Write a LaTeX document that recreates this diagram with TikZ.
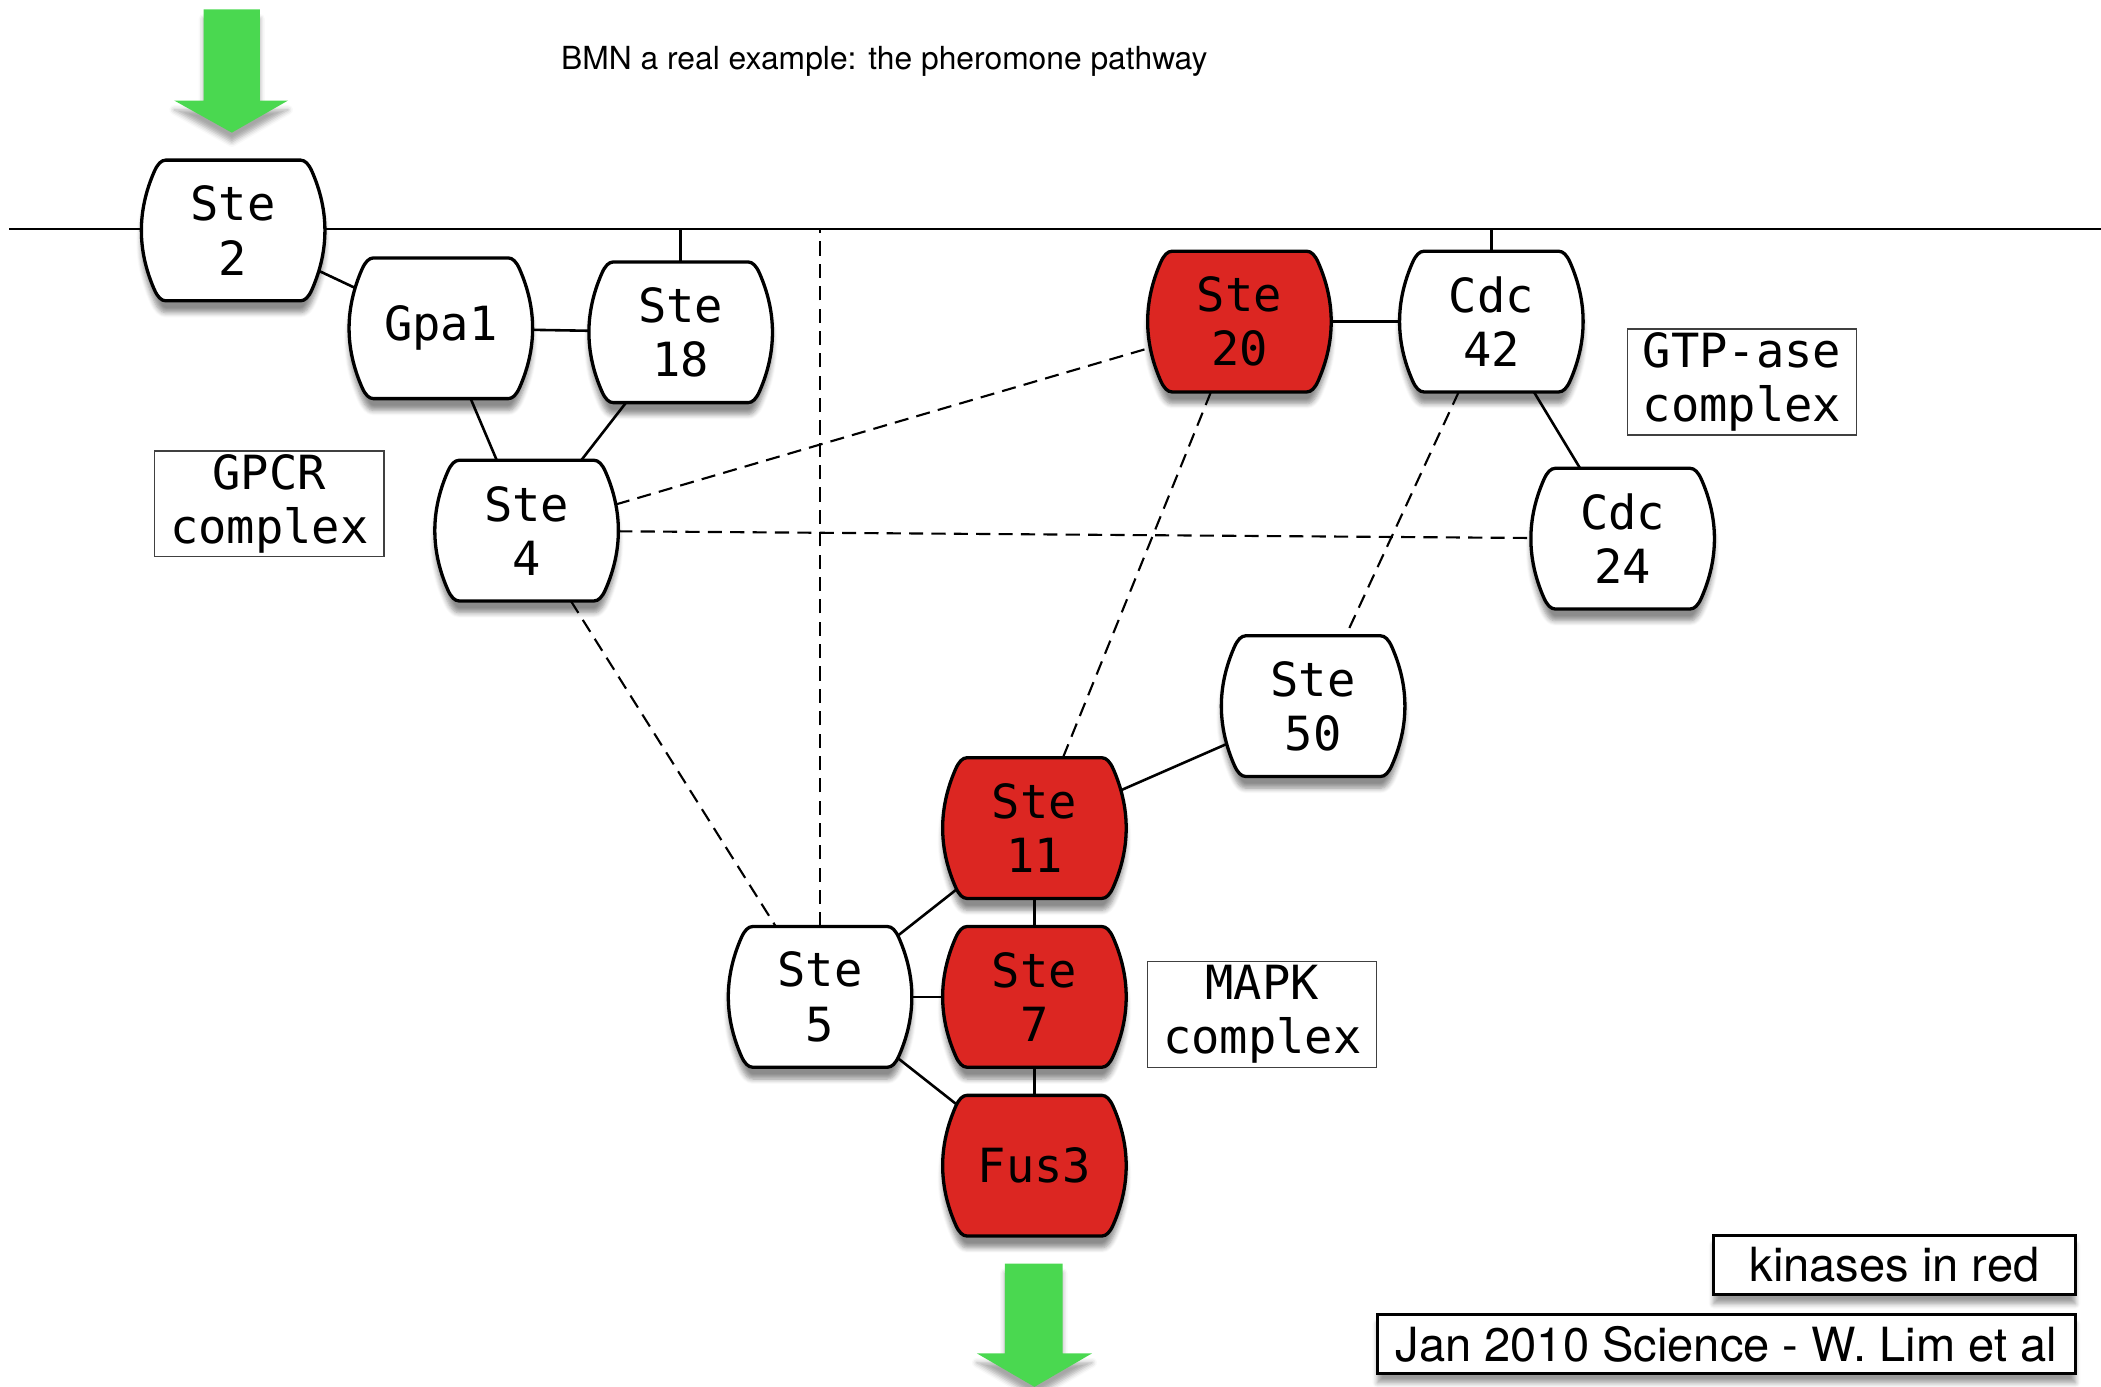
\documentclass[tikz,border=0pt]{standalone}
\usepackage{fontspec}
\setmainfont{TeX Gyre Heros}
\newfontfamily\protfont{DejaVu Sans Mono}
\usepackage{xcolor}
\definecolor{kinaseRed}{RGB}{220,38,34}
\definecolor{signalGreen}{RGB}{74,216,80}
\usepackage{tikz}
\usetikzlibrary{positioning, shadows.blur}
\makeatletter
\def\barrel@dims{%
  \northeast\edef\barrelex{\the\pgf@x}\edef\barreley{\the\pgf@y}%
  \southwest\edef\barrelwx{\the\pgf@x}\edef\barrelwy{\the\pgf@y}%
  \pgfmathsetmacro\barrelW{((\barrelex)-(\barrelwx))/2}%
  \pgfmathsetmacro\barrelH{((\barreley)-(\barrelwy))/2}%
  \pgfmathsetmacro\barrelcx{((\barrelex)+(\barrelwx))/2}%
  \pgfmathsetmacro\barrelcy{((\barreley)+(\barrelwy))/2}%
  \pgfmathsetmacro\barrelD{0.2*\barrelW}%
}
\pgfdeclareshape{barrel}{%
  \inheritsavedanchors[from=rectangle]%
  \inheritanchor[from=rectangle]{center}%
  \inheritanchor[from=rectangle]{north}%
  \inheritanchor[from=rectangle]{south}%
  \inheritanchor[from=rectangle]{east}%
  \inheritanchor[from=rectangle]{west}%
  \inheritanchor[from=rectangle]{mid}%
  \inheritanchor[from=rectangle]{base}%
  \inheritanchor[from=rectangle]{text}%
  \anchorborder{%
    \edef\barreldx{\the\pgf@x}\edef\barreldy{\the\pgf@y}%
    \barrel@dims
    \pgfmathsetmacro\barrelL{max(veclen(\barreldx,\barreldy),0.001)}%
    \pgfmathsetmacro\barrelux{(\barreldx)/\barrelL}%
    \pgfmathsetmacro\barreluy{(\barreldy)/\barrelL}%
    \pgfmathsetmacro\barrelax{abs(\barrelux)}%
    \pgfmathsetmacro\barrelay{abs(\barreluy)}%
    \pgfmathsetmacro\barrelta{\barrelH/max(\barrelay,0.01)}%
    \pgfmathsetmacro\barrelqa{\barrelD*(\barrelay/\barrelH)*(\barrelay/\barrelH)}%
    \pgfmathsetmacro\barreltb{2*\barrelW/(\barrelax+sqrt(\barrelax*\barrelax+4*\barrelqa*\barrelW))}%
    \pgfmathsetmacro\barrelt{min(\barrelta,\barreltb)}%
    \pgfmathsetmacro\barrelrx{\barrelcx+\barrelt*(\barrelux)}%
    \pgfmathsetmacro\barrelry{\barrelcy+\barrelt*(\barreluy)}%
    \pgf@x=\barrelrx pt\relax
    \pgf@y=\barrelry pt\relax
  }%
  \backgroundpath{%
    \barrel@dims
    \pgfmathsetmacro\barrelc{0.35*\barrelD}%
    \pgfmathsetmacro\rxo{\barrelcx+\barrelW-0.9744*\barrelD}%
    \pgfmathsetmacro\rxc{\rxo-\barrelc}%
    \pgfmathsetmacro\rxp{\barrelcx+\barrelW-0.7056*\barrelD}%
    \pgfmathsetmacro\rxm{\barrelcx+\barrelW+0.706*\barrelD}%
    \pgfmathsetmacro\lxo{\barrelcx-\barrelW+0.9744*\barrelD}%
    \pgfmathsetmacro\lxc{\lxo+\barrelc}%
    \pgfmathsetmacro\lxp{\barrelcx-\barrelW+0.7056*\barrelD}%
    \pgfmathsetmacro\lxm{\barrelcx-\barrelW-0.706*\barrelD}%
    \pgfmathsetmacro\yb{\barrelcy-\barrelH}%
    \pgfmathsetmacro\yt{\barrelcy+\barrelH}%
    \pgfmathsetmacro\yp{\barrelcy-0.84*\barrelH}%
    \pgfmathsetmacro\yq{\barrelcy+0.84*\barrelH}%
    \pgfpathmoveto{\pgfqpoint{\lxc pt}{\yb pt}}%
    \pgfpathlineto{\pgfqpoint{\rxc pt}{\yb pt}}%
    \pgfpathquadraticcurveto{\pgfqpoint{\rxo pt}{\yb pt}}{\pgfqpoint{\rxp pt}{\yp pt}}%
    \pgfpathquadraticcurveto{\pgfqpoint{\rxm pt}{\barrelcy pt}}{\pgfqpoint{\rxp pt}{\yq pt}}%
    \pgfpathquadraticcurveto{\pgfqpoint{\rxo pt}{\yt pt}}{\pgfqpoint{\rxc pt}{\yt pt}}%
    \pgfpathlineto{\pgfqpoint{\lxc pt}{\yt pt}}%
    \pgfpathquadraticcurveto{\pgfqpoint{\lxo pt}{\yt pt}}{\pgfqpoint{\lxp pt}{\yq pt}}%
    \pgfpathquadraticcurveto{\pgfqpoint{\lxm pt}{\barrelcy pt}}{\pgfqpoint{\lxp pt}{\yp pt}}%
    \pgfpathquadraticcurveto{\pgfqpoint{\lxo pt}{\yb pt}}{\pgfqpoint{\lxc pt}{\yb pt}}%
    \pgfpathclose
  }%
}
\makeatother
\tikzset{
  prot/.style={barrel, draw=black, line width=1.4pt, fill=white,
    minimum width=2.74cm, minimum height=2.1cm, inner sep=0pt, outer sep=0pt, align=center,
    font=\protfont\fontsize{20}{23}\selectfont,
    blur shadow={shadow xshift=0pt, shadow yshift=-5pt, shadow blur steps=6, shadow opacity=45}},
  kinase/.style={prot, fill=kinaseRed},
  complexbox/.style={draw=black!75, line width=0.6pt, fill=white, minimum width=3.42cm, minimum height=1.58cm,
    inner sep=0pt, align=center, font=\protfont\fontsize{20}{23}\selectfont},
  notebox/.style={draw=black, line width=1.3pt, fill=white, minimum height=0.88cm, inner sep=0pt,
    font=\fontsize{20}{22}\selectfont,
    blur shadow={shadow xshift=0pt, shadow yshift=-4pt, shadow blur steps=5, shadow opacity=40}},
  link/.style={line width=1.1pt},
  weak/.style={line width=0.9pt, dash pattern=on 6pt off 3.5pt}
}
\begin{document}
\begin{tikzpicture}[x=0.02cm, y=-0.02cm]
\useasboundingbox (0,0) rectangle (1568,1035);
\coordinate (memL) at (7,171);
\coordinate (memR) at (1568,171);
\draw[link] (memL) -- (memR);
\fill[signalGreen, blur shadow={shadow xshift=0pt, shadow yshift=-4pt, shadow opacity=35}] (152,7) -- (194,7) -- (194,75) -- (215,75) -- (173,99) -- (130,75) -- (152,75) -- cycle;
\node[font=\fontsize{13.5}{16}\selectfont] (title) at (660,46) {BMN a real example: the pheromone pathway};
\node[prot] (ste2) at (174,172) {Ste\\2};
\node[prot] (gpa1) at (329,245) {Gpa1};
\node[prot] (ste18) at (508,248) {Ste\\18};
\node[prot] (ste4) at (393,396) {Ste\\4};
\node[complexbox] (gpcr) at (201,376) {GPCR\\complex};
\node[kinase] (ste20) at (925,240) {Ste\\20};
\node[prot] (cdc42) at (1113,240) {Cdc\\42};
\node[complexbox] (gtpase) at (1300,285) {GTP-ase\\complex};
\node[prot] (cdc24) at (1211,402) {Cdc\\24};
\node[prot] (ste50) at (980,527) {Ste\\50};
\node[kinase] (ste11) at (772,618) {Ste\\11};
\node[kinase, below=0.42cm of ste11] (ste7) {Ste\\7};
\node[kinase, below=0.42cm of ste7] (fus3) {Fus3};
\node[prot, left=0.46cm of ste7] (ste5) {Ste\\5};
\node[complexbox] (mapk) at (942,757) {MAPK\\complex};
\draw[link] (ste2) -- (gpa1);
\draw[link] (gpa1) -- (ste18);
\draw[link] (gpa1) -- (ste4);
\draw[link] (ste18) -- (ste4);
\draw[link] (ste18) -- (ste18 |- memL);
\draw[link] (ste20) -- (cdc42);
\draw[link] (cdc42) -- (cdc42 |- memL);
\draw[link] (cdc42) -- (cdc24);
\draw[link] (ste50) -- (ste11);
\draw[link] (ste11) -- (ste5);
\draw[link] (ste11) -- (ste7);
\draw[link] (ste5) -- (ste7);
\draw[link] (ste7) -- (fus3);
\draw[link] (ste5) -- (fus3);
\draw[weak] (ste4) -- (ste20);
\draw[weak] (ste4) -- (cdc24);
\draw[weak] (ste4) -- (ste5);
\draw[weak] (ste5) -- (ste5 |- memL);
\draw[weak] (ste20) -- (ste11);
\draw[weak] (cdc42) -- (ste50);
\fill[signalGreen, blur shadow={shadow xshift=0pt, shadow yshift=-4pt, shadow opacity=35}] (750,943) -- (793,943) -- (793,1010) -- (815,1010) -- (772,1035) -- (729,1010) -- (750,1010) -- cycle;
\node[notebox, minimum width=5.4cm, anchor=east] (kinnote) at (1550,944) {kinases in red};
\node[notebox, minimum width=10.42cm, anchor=east] (refnote) at (1550,1003) {Jan 2010 Science - W. Lim et al};
\end{tikzpicture}
\end{document}
